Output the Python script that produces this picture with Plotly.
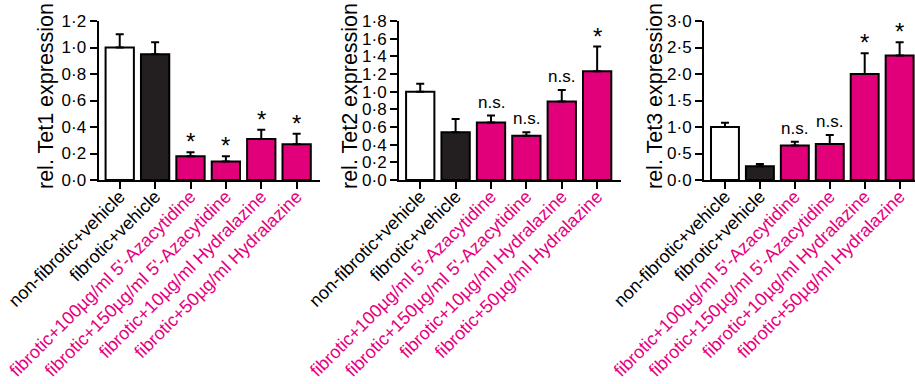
import plotly.graph_objects as go

# Treatment groups (x categories, shared by all three panels)
groups = [
    "non-fibrotic+vehicle",
    "fibrotic+vehicle",
    "fibrotic+100µg/ml 5'-Azacytidine",
    "fibrotic+150µg/ml 5'-Azacytidine",
    "fibrotic+10µg/ml Hydralazine",
    "fibrotic+50µg/ml Hydralazine",
]

# Relative expression (mean) and upper error (SEM)
tet1_mean = [1.00, 0.95, 0.18, 0.14, 0.31, 0.27]
tet1_err = [0.10, 0.09, 0.03, 0.04, 0.07, 0.08]
tet2_mean = [1.00, 0.54, 0.65, 0.50, 0.89, 1.23]
tet2_err = [0.09, 0.15, 0.08, 0.04, 0.13, 0.28]
tet3_mean = [1.00, 0.26, 0.65, 0.68, 2.00, 2.35]
tet3_err = [0.08, 0.04, 0.07, 0.17, 0.39, 0.25]

# Significance labels vs fibrotic+vehicle
tet1_sig = ["", "", "*", "*", "*", "*"]
tet2_sig = ["", "", "n.s.", "n.s.", "n.s.", "*"]
tet3_sig = ["", "", "n.s.", "n.s.", "*", "*"]

# Y-axis ticks
tet1_ticks = [0.0, 0.2, 0.4, 0.6, 0.8, 1.0, 1.2]
tet2_ticks = [0.0, 0.2, 0.4, 0.6, 0.8, 1.0, 1.2, 1.4, 1.6, 1.8]
tet3_ticks = [0.0, 0.5, 1.0, 1.5, 2.0, 2.5, 3.0]

titles = ["rel. Tet1 expression", "rel. Tet2 expression", "rel. Tet3 expression"]

W, H = 915, 384
MAGENTA = "#E2007A"
LABEL_MAGENTA = "#E6007E"
DARK = "#231F20"
FONT = "Liberation Sans, Arial, Helvetica, sans-serif"

bar_fill = ["white", DARK, MAGENTA, MAGENTA, MAGENTA, MAGENTA]
label_col = ["black", "black", LABEL_MAGENTA, LABEL_MAGENTA, LABEL_MAGENTA, LABEL_MAGENTA]
ticktext_x = [f'<span style="color:{c}">{g}</span>' for g, c in zip(groups, label_col)]


def px_x(v):
    return v / W


def px_y(v):
    return 1 - v / H


panels = [
    dict(mean=tet1_mean, err=tet1_err, sig=tet1_sig, ticks=tet1_ticks,
         xdom=(98.5, 320), xr=(-0.6, 5.66), title_x=46),
    dict(mean=tet2_mean, err=tet2_err, sig=tet2_sig, ticks=tet2_ticks,
         xdom=(399, 620.5), xr=(-0.6, 5.66), title_x=350),
    dict(mean=tet3_mean, err=tet3_err, sig=tet3_sig, ticks=tet3_ticks,
         xdom=(704, 915), xr=(-0.6, 5.44), title_x=655),
]

fig = go.Figure()
layout = {}
annotations = []
ydom = (px_y(180), px_y(21))

for k, p in enumerate(panels):
    sfx = "" if k == 0 else str(k + 1)
    xs = list(range(len(groups)))
    fig.add_trace(go.Bar(
        x=xs, y=p["mean"],
        xaxis="x" + sfx, yaxis="y" + sfx,
        marker=dict(color=bar_fill, line=dict(color="black", width=2)),
        error_y=dict(type="data", symmetric=False, array=p["err"],
                     arrayminus=[0] * len(groups),
                     color="black", thickness=2, width=4),
        showlegend=False,
    ))
    layout["xaxis" + sfx] = dict(
        domain=[px_x(p["xdom"][0]), px_x(p["xdom"][1])],
        anchor="y" + sfx, range=list(p["xr"]), automargin=False,
        tickmode="array", tickvals=xs, ticktext=ticktext_x,
        tickangle=-45, ticks="outside", ticklen=7, tickwidth=2,
        ticklabelstandoff=-10,
        tickcolor="black", showline=True, linecolor="black", linewidth=2,
        showgrid=False, zeroline=False,
        tickfont=dict(family=FONT, size=18, color="black"),
    )
    top = p["ticks"][-1]
    layout["yaxis" + sfx] = dict(
        domain=list(ydom), anchor="x" + sfx, range=[0, top], automargin=False,
        tickmode="array", tickvals=p["ticks"],
        ticktext=[f"{t:.1f}".replace(".", "·") for t in p["ticks"]],
        ticks="outside", ticklen=7, tickwidth=2, tickcolor="black",
        showline=True, linecolor="black", linewidth=2,
        showgrid=False, zeroline=False,
        tickfont=dict(family=FONT, size=17, color="black"),
    )
    for i, s in enumerate(p["sig"]):
        if not s:
            continue
        star = s == "*"
        annotations.append(dict(
            x=i, y=p["mean"][i] + p["err"][i],
            xref="x" + sfx, yref="y" + sfx,
            text=s, showarrow=False, yanchor="bottom",
            yshift=-5 if star else 2,
            font=dict(family=FONT, size=24 if star else 17, color="black"),
        ))
    annotations.append(dict(
        x=px_x(p["title_x"]), y=px_y(96), xref="paper", yref="paper",
        text=titles[k], textangle=-90, showarrow=False,
        xanchor="center", yanchor="middle",
        font=dict(family=FONT, size=21.5, color="black"),
    ))

fig.update_layout(
    width=W, height=H,
    margin=dict(l=0, r=0, t=0, b=0),
    paper_bgcolor="white", plot_bgcolor="white",
    bargap=0.2,
    annotations=annotations,
    **layout,
)

fig.write_html("out.html")
